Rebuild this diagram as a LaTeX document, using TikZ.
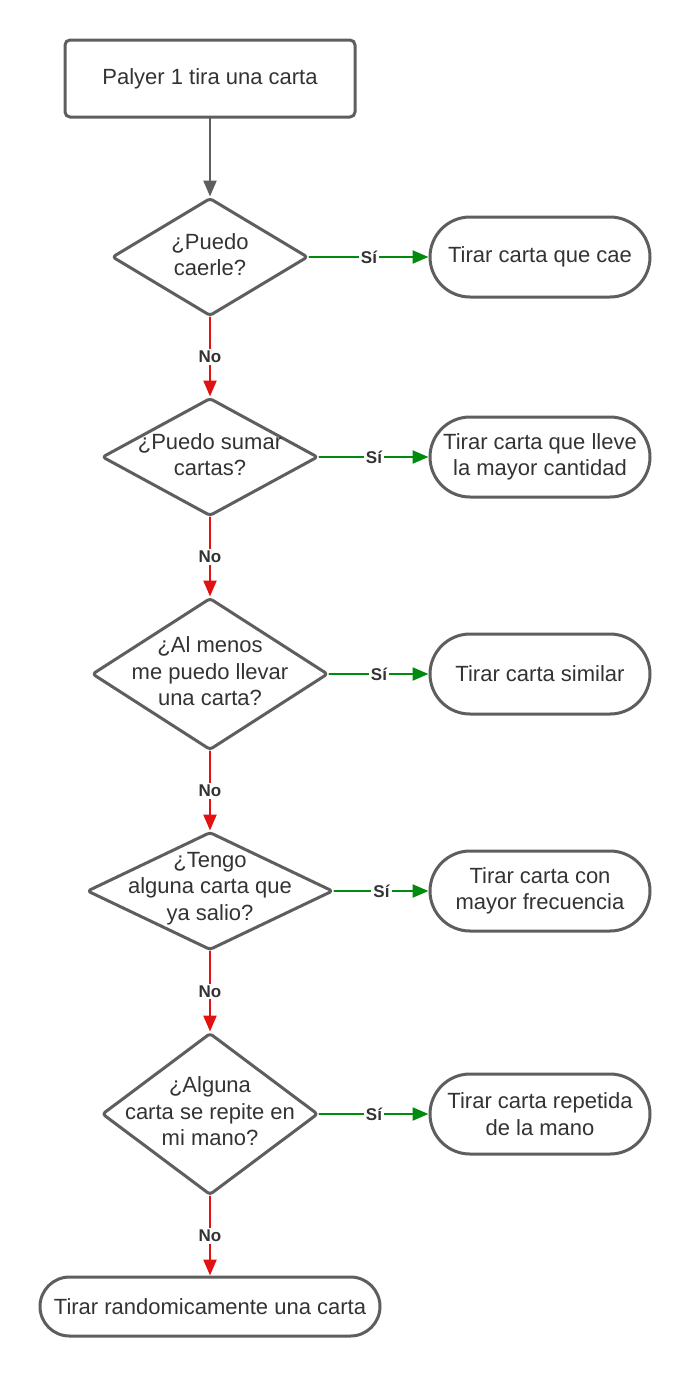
\documentclass[tikz,border=0pt]{standalone}
\usepackage{fontspec}
\setmainfont{Liberation Sans}
\usetikzlibrary{arrows.meta,shapes.geometric}
\definecolor{bordegris}{RGB}{94,94,94}
\definecolor{textogris}{RGB}{51,51,51}
\definecolor{verdesi}{RGB}{0,138,14}
\definecolor{rojono}{RGB}{226,18,18}

\begin{document}
\begin{tikzpicture}[line cap=round,line join=round,>={Triangle[length=8pt,width=6.5pt]},x=0.5pt,y=-0.5pt,
        every node/.style={text=textogris,font=\fontsize{11}{13.25}\selectfont},
        every label/.style={align=center,yshift=1.2pt},
        inicio/.style={draw=bordegris,line width=1.5pt,rectangle,rounded corners=2.5pt,minimum width=145pt,minimum height=38.5pt},
        pregunta/.style={draw=bordegris,line width=1.5pt,diamond,rounded corners=1.5pt,inner sep=0pt},
        accion/.style={draw=bordegris,line width=1.5pt,rectangle,rounded corners=20pt,inner sep=0pt,minimum width=110pt,minimum height=40pt,align=center},
        flujo/.style={line width=1.15pt,->},
        etiqueta/.style={fill=white,inner sep=1pt,font=\fontsize{8.5}{9}\selectfont\bfseries}]
    \useasboundingbox[fill=white] (0,0) rectangle (690,1377);

    \node[inicio] (inicio) at (210,78.5) {Palyer 1 tira una carta};

    \node[pregunta,minimum width=98pt,minimum height=59pt,label={center:{¿Puedo\\caerle?}}] (p1) at (210,257) {};
    \node[pregunta,minimum width=108pt,minimum height=59pt,label={center:{¿Puedo sumar\\cartas?}}] (p2) at (210,457) {};
    \node[pregunta,minimum width=118pt,minimum height=76pt,label={center:{¿Al menos\\me puedo llevar\\una carta?}}] (p3) at (210,674) {};
    \node[pregunta,minimum width=123pt,minimum height=59pt,label={center:{¿Tengo\\alguna carta que\\ya salio?}}] (p4) at (210,891) {};
    \node[pregunta,minimum width=108pt,minimum height=81pt,label={center:{¿Alguna\\carta se repite en\\mi mano?}}] (p5) at (210,1114) {};

    \node[accion] (a1) at (540,257) {Tirar carta que cae};
    \node[accion] (a2) at (540,457) {Tirar carta que lleve\\la mayor cantidad};
    \node[accion] (a3) at (540,674) {Tirar carta similar};
    \node[accion] (a4) at (540,891) {Tirar carta con\\mayor frecuencia};
    \node[accion] (a5) at (540,1114) {Tirar carta repetida\\de la mano};
    \node[accion,rounded corners=14.75pt,minimum width=170pt,minimum height=29.5pt] (fin) at (210,1306.5) {Tirar randomicamente una carta};

    \draw[flujo,draw=bordegris] (inicio) -- (p1);
    \foreach \p/\a in {p1/a1,p2/a2,p3/a3,p4/a4,p5/a5}
        \draw[flujo,draw=verdesi] (\p) -- node[etiqueta] {Sí} (\a);
    \foreach \p/\q in {p1/p2,p2/p3,p3/p4,p4/p5,p5/fin}
        \draw[flujo,draw=rojono] (\p) -- node[etiqueta] {No} (\q);
\end{tikzpicture}
\end{document}
